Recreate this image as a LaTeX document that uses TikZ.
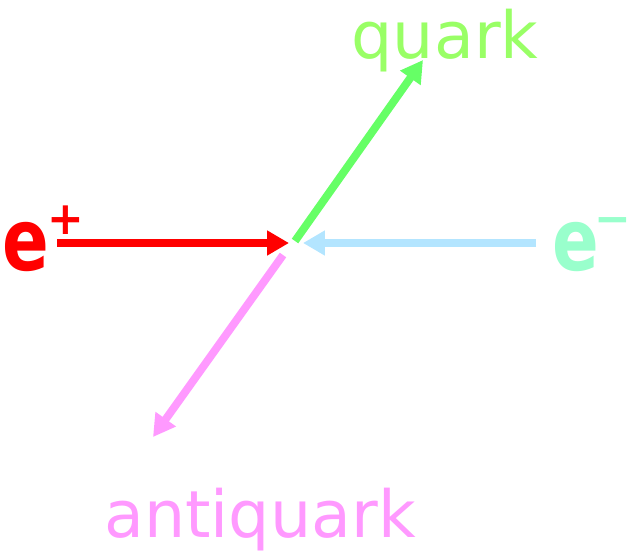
\documentclass[tikz,border=0pt]{standalone}
\usepackage{fontspec}
\setmainfont{DejaVu Sans}
\usetikzlibrary{arrows.meta}
\definecolor{positron}{HTML}{FF0000}
\definecolor{electron}{HTML}{99FFCC}
\definecolor{electronline}{HTML}{B3E5FF}
\definecolor{quarkline}{HTML}{66FF66}
\definecolor{quarktext}{HTML}{99FF66}
\definecolor{antiquark}{HTML}{FF99FF}
\tikzset{
  beam/.style={line width=4.5pt, -{Triangle[length=12.5pt, width=13.5pt]}},
  lepton/.style={inner sep=0pt, font=\fontsize{49}{49}\selectfont\bfseries, xscale=0.8},
  partlabel/.style={inner sep=0pt, anchor=base, font=\fontsize{37}{37}\selectfont}
}
\newcommand{\chg}[1]{\raisebox{20pt}{\scalebox{1.2}[1]{\fontsize{26}{26}\selectfont\bfseries #1}}}
\begin{document}
\begin{tikzpicture}[x=0.02cm, y=-0.02cm]
\useasboundingbox (0,0) rectangle (634,552);
\coordinate (Ein) at (57,243);
\coordinate (Eout) at (289,243);
\coordinate (Fin) at (536,243);
\coordinate (Fout) at (303,243);
\coordinate (Qin) at (295,241);
\coordinate (Qout) at (423,60);
\coordinate (Ain) at (283,255);
\coordinate (Aout) at (153,437);
\node[lepton, text=positron, anchor=base west] (eplus) at (2,270) {e\kern-1pt\chg{+}};
\node[lepton, text=electron, anchor=base west] (eminus) at (552,270) {e\kern-3pt\chg{−}};
\node[partlabel, text=quarktext] (quark) at (445,58) {quark};
\node[partlabel, text=antiquark] (anti) at (260,537) {antiquark};
\draw[beam, positron] (Ein) -- (Eout);
\draw[beam, electronline] (Fin) -- (Fout);
\draw[beam, quarkline] (Qin) -- (Qout);
\draw[beam, antiquark] (Ain) -- (Aout);
\end{tikzpicture}
\end{document}
